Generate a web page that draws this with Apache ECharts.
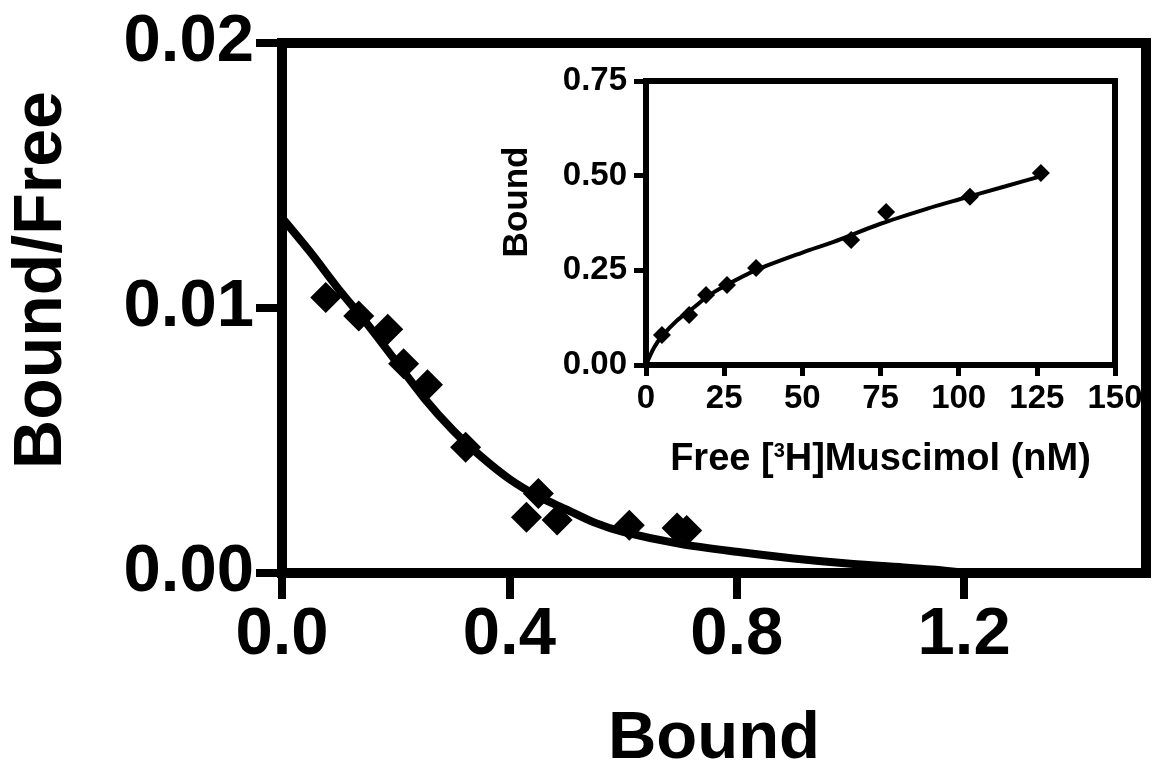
<!DOCTYPE html>
<html>
<head>
<meta charset="utf-8">
<script src="https://cdn.jsdelivr.net/npm/echarts@6/dist/echarts.min.js"></script>
<style>
html,body{margin:0;padding:0;background:#fff;}
#chart{width:1152px;height:775px;}
</style>
</head>
<body>
<div id="chart"></div>
<script>
// Main Scatchard plot data: [Bound, Bound/Free]
const mainPoints = [
  [0.077, 0.0104], [0.135, 0.0097], [0.186, 0.0092], [0.214, 0.0079],
  [0.256, 0.0071], [0.323, 0.00475], [0.451, 0.0030], [0.430, 0.0021],
  [0.484, 0.0020], [0.611, 0.0018], [0.695, 0.0017], [0.712, 0.0016]
];
const mainCurve = [
  [0, 0.0134], [0.05, 0.0121], [0.1, 0.0107], [0.15, 0.0094], [0.2, 0.0080],
  [0.25, 0.0066], [0.3, 0.0054], [0.35, 0.0044], [0.4, 0.00355], [0.45, 0.0029],
  [0.5, 0.0024], [0.55, 0.0019], [0.6, 0.00155], [0.7, 0.0011], [0.8, 0.0008],
  [0.9, 0.00055], [1.0, 0.00035], [1.1, 0.0002], [1.15, 0.00012], [1.2, 0.0]
];
// Inset saturation data: [Free (nM), Bound]
const insetPoints = [
  [5.1, 0.079], [13.8, 0.132], [19.2, 0.185], [25.9, 0.211], [35.2, 0.256],
  [65.6, 0.330], [76.8, 0.404], [103.6, 0.444], [126.3, 0.507]
];
const insetCurve = [
  [0, 0], [2.5, 0.045], [5, 0.075], [10, 0.118], [15, 0.15], [20, 0.183],
  [25, 0.208], [35, 0.25], [50, 0.297], [60, 0.325], [75, 0.373], [90, 0.413],
  [100, 0.437], [115, 0.472], [127, 0.5]
];
const mainXTitle = 'Bound';
const mainYTitle = 'Bound/Free';
const insetXTitle = 'Free [{sup|3}H]Muscimol (nM)';
const insetYTitle = 'Bound';

const FONT = '"Liberation Sans", Arial, Helvetica, sans-serif';
const chart = echarts.init(document.getElementById('chart'));

chart.setOption({
  backgroundColor: '#fff',
  animation: false,
  grid: [
    {left: 282, top: 43, width: 864, height: 530, show: true, borderColor: '#000', borderWidth: 10,
     backgroundColor: 'transparent', outerBoundsMode: 'none', containLabel: false},
    {left: 646, top: 81, width: 469, height: 284, show: true, borderColor: '#000', borderWidth: 6,
     backgroundColor: '#fff', outerBoundsMode: 'none', containLabel: false}
  ],
  xAxis: [
    {gridIndex: 0, type: 'value', min: 0, max: 1.52, interval: 0.4,
     splitLine: {show: false},
     axisLine: {show: true, lineStyle: {color: '#000', width: 10}},
     axisTick: {show: true, inside: false, length: 26, lineStyle: {color: '#000', width: 8}},
     axisLabel: {margin: 30, fontSize: 67, lineHeight: 66, fontWeight: 'bold', color: '#000', fontFamily: FONT,
       showMaxLabel: false, formatter: v => v.toFixed(1)},
     name: mainXTitle, nameLocation: 'middle', nameGap: 134,
     nameTextStyle: {fontSize: 67, lineHeight: 66, fontWeight: 'bold', color: '#000', fontFamily: FONT}},
    {gridIndex: 1, type: 'value', min: 0, max: 150, interval: 25,
     splitLine: {show: false},
     axisLine: {show: true, lineStyle: {color: '#000', width: 6}},
     axisTick: {show: true, inside: false, length: 11, lineStyle: {color: '#000', width: 5}},
     axisLabel: {margin: 17, fontSize: 33, lineHeight: 33, fontWeight: 'bold', color: '#000', fontFamily: FONT,
       showMaxLabel: true, showMinLabel: true},
     name: insetXTitle, nameLocation: 'middle', nameGap: 76,
     nameTextStyle: {fontSize: 38, lineHeight: 38, fontWeight: 'bold', color: '#000', fontFamily: FONT,
       rich: {sup: {fontSize: 20, fontWeight: 'bold', color: '#000', fontFamily: FONT, verticalAlign: 'top', lineHeight: 20}}}}
  ],
  yAxis: [
    {gridIndex: 0, type: 'value', min: 0, max: 0.02, interval: 0.01,
     splitLine: {show: false},
     axisLine: {show: true, lineStyle: {color: '#000', width: 10}},
     axisTick: {show: true, inside: false, length: 26, lineStyle: {color: '#000', width: 8}},
     axisLabel: {margin: 28, fontSize: 67, lineHeight: 66, fontWeight: 'bold', color: '#000', fontFamily: FONT,
       formatter: v => v.toFixed(2)}},
    {gridIndex: 1, type: 'value', min: 0, max: 0.75, interval: 0.25,
     splitLine: {show: false},
     axisLine: {show: true, lineStyle: {color: '#000', width: 6}},
     axisTick: {show: true, inside: false, length: 12, lineStyle: {color: '#000', width: 5}},
     axisLabel: {margin: 19, fontSize: 33, lineHeight: 33, fontWeight: 'bold', color: '#000', fontFamily: FONT,
       formatter: v => v.toFixed(2)}}
  ],
  graphic: [
    {type: 'text', x: 42, y: 280, rotation: Math.PI / 2,
     style: {text: mainYTitle, fontSize: 68, fontWeight: 'bold', fill: '#000', fontFamily: FONT,
       align: 'center', verticalAlign: 'middle'}},
    {type: 'text', x: 517, y: 202, rotation: Math.PI / 2, z: 10,
     style: {text: insetYTitle, fontSize: 35, fontWeight: 'bold', fill: '#000', fontFamily: FONT,
       align: 'center', verticalAlign: 'middle'}}
  ],
  series: [
    {type: 'line', xAxisIndex: 0, yAxisIndex: 0, data: mainCurve, smooth: 0.3, showSymbol: false,
     lineStyle: {color: '#000', width: 8}, z: 3},
    {type: 'scatter', xAxisIndex: 0, yAxisIndex: 0, data: mainPoints, symbol: 'diamond', symbolSize: 31,
     itemStyle: {color: '#000', opacity: 1}, z: 4},
    {type: 'line', xAxisIndex: 1, yAxisIndex: 1, data: insetCurve, smooth: 0.3, showSymbol: false,
     lineStyle: {color: '#000', width: 4}, z: 3},
    {type: 'scatter', xAxisIndex: 1, yAxisIndex: 1, data: insetPoints, symbol: 'diamond', symbolSize: 18,
     itemStyle: {color: '#000', opacity: 1}, z: 4}
  ]
});
</script>
</body>
</html>
